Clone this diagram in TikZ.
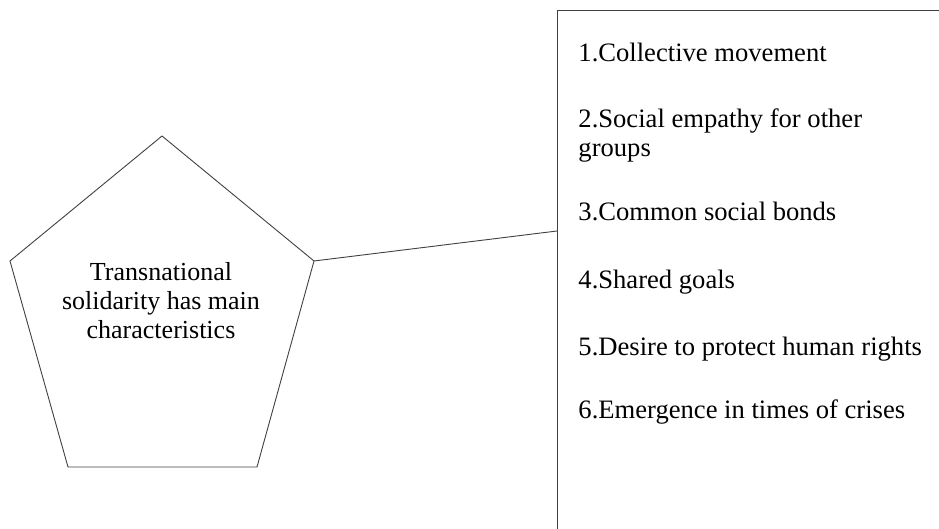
\documentclass[tikz,border=0pt]{standalone}
\usepackage{fontspec}
\setmainfont{Liberation Serif}
\begin{document}
\begin{tikzpicture}[x=1pt,y=-1pt,line width=0.9pt]
\useasboundingbox (0,0) rectangle (939,529);
\tikzset{item/.style={anchor=base west,inner sep=0pt,align=left,font=\fontsize{26.6}{29}\selectfont}}

% pentagon
\coordinate(top) at (162,136);
\coordinate(right) at (314,261);
\coordinate(bright) at (257,467);
\coordinate(bleft) at (68,467);
\coordinate(left) at (10,261);
\draw[color=black!75] (top) -- (right) -- (bright) -- (bleft) -- (left) -- cycle;
\node(title) at (161,301)[align=center,inner sep=0pt,font=\fontsize{26}{29}\selectfont] {Transnational\\solidarity has main\\characteristics};

% list box (runs off the page)
\coordinate(boxtr) at (939,10);
\coordinate(boxtl) at (557,10);
\coordinate(boxbl) at (557,529);
\draw[color=black!75] (boxtr) -- (boxtl) -- (boxbl);

\node(i1) at (578,62)[item] {1.Collective movement};
\node(i2) at (578,157)[item] {2.Social empathy for other\\groups};
\node(i3) at (578,221)[item] {3.Common social bonds};
\node(i4) at (578,288)[item] {4.Shared goals};
\node(i5) at (578,355)[item] {5.Desire to protect human rights};
\node(i6) at (578,418)[item] {6.Emergence in times of crises};

\coordinate(join) at (557,231);
\draw[color=black!75] (right) -- (join);

\end{tikzpicture}
\end{document}
